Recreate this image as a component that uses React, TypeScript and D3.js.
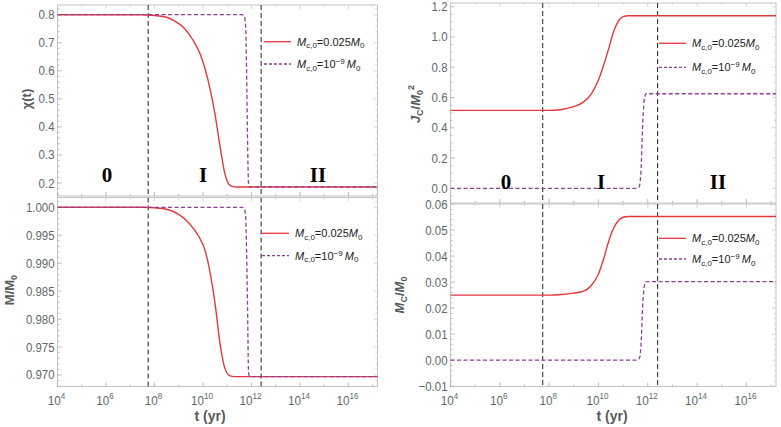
import React from 'react';
import * as d3 from 'd3';

// log10(t / yr) sample points
const chiRedT = [4, 7.5, 8.0, 8.5, 8.8, 9.2, 9.6, 9.9, 10.1, 10.3, 10.5, 10.7, 10.9, 11.05, 11.2, 11.4, 17.2];
const chiRed = [0.8, 0.8, 0.797, 0.791, 0.779, 0.754, 0.708, 0.656, 0.603, 0.533, 0.444, 0.333, 0.235, 0.198, 0.188, 0.186, 0.186];
const chiPurpleT = [4, 11.6, 11.7, 11.76, 11.8, 11.84, 11.88, 11.92, 17.2];
const chiPurple = [0.8, 0.8, 0.796, 0.76, 0.6, 0.35, 0.2, 0.186, 0.186];

const massRedT = [4, 7.5, 8.0, 8.5, 9.0, 9.4, 9.8, 10.1, 10.3, 10.5, 10.7, 10.9, 11.05, 11.2, 11.4, 17.2];
const massRed = [1.0, 1.0, 0.99991, 0.99964, 0.99873, 0.99727, 0.995, 0.99212, 0.98818, 0.98273, 0.97576, 0.97122, 0.97006, 0.96976, 0.9697, 0.9697];
const massPurpleT = [4, 11.6, 11.7, 11.76, 11.8, 11.84, 11.88, 11.92, 17.2];
const massPurple = [1.0, 1.0, 0.9998, 0.9985, 0.992, 0.982, 0.9705, 0.9697, 0.9697];

const jRedT = [4, 8.0, 8.5, 9.0, 9.4, 9.7, 10.0, 10.2, 10.4, 10.6, 10.8, 11.0, 11.2, 17.2];
const jRed = [0.515, 0.515, 0.521, 0.54, 0.571, 0.621, 0.715, 0.809, 0.915, 1.028, 1.103, 1.134, 1.14, 1.14];
const jPurpleT = [4, 11.55, 11.65, 11.72, 11.8, 11.87, 11.93, 17.2];
const jPurple = [0, 0, 0.01, 0.1, 0.45, 0.6, 0.625, 0.625];

const mcRedT = [4, 8.0, 8.5, 9.0, 9.4, 9.7, 10.0, 10.2, 10.4, 10.6, 10.8, 11.0, 11.2, 17.2];
const mcRed = [0.025, 0.025, 0.02524, 0.02576, 0.02651, 0.02862, 0.03315, 0.03859, 0.04523, 0.05037, 0.05354, 0.0549, 0.0552, 0.0552];
const mcPurpleT = [4, 11.55, 11.65, 11.72, 11.8, 11.87, 11.93, 17.2];
const mcPurple = [0, 0, 0.0005, 0.005, 0.022, 0.029, 0.0302, 0.0302];

// phase boundaries, log10(t)
const phaseBounds = [7.74, 12.4];
const phaseLabels = ['0', 'I', 'II'];
const xTickExp = [4, 6, 8, 10, 12, 14, 16];

const chiTicks = [0.2, 0.3, 0.4, 0.5, 0.6, 0.7, 0.8];
const massTicks = [0.97, 0.975, 0.98, 0.985, 0.99, 0.995, 1.0];
const jTicks = [0, 0.2, 0.4, 0.6, 0.8, 1.0, 1.2];
const mcTicks = [-0.01, 0, 0.01, 0.02, 0.03, 0.04, 0.05, 0.06];

const RED = '#e6373c';
const PURPLE = '#8e3d98';
const TICK_COL = '#5d6a6a';
const TITLE_COL = '#555b5b';
const FRAME = '#c4c4c4';
const FONT = "'Liberation Sans', Arial, sans-serif";

const W = 781;
const H = 427;

interface PanelProps {
  x0: number;
  x1: number;
  y0: number;
  y1: number;
  yDomain: [number, number];
  yTicks: number[];
  yFmt: (v: number) => string;
  yMinor: number;
  red: [number[], number[]];
  purple: [number[], number[]];
  legendY: [number, number];
  legendX: number;
  phaseLabelPos?: number[];
  showX: boolean;
}

function Legend({ x, y, label }: { x: number; y: number; label: 'a' | 'b' }) {
  return (
    <g>
      <line x1={x} x2={x + 27} y1={y} y2={y}
        stroke={label === 'a' ? RED : PURPLE} strokeWidth={1.3}
        strokeDasharray={label === 'a' ? undefined : '3,2'} />
      <text x={x + 33} y={y + 4} fontSize={11} fill="#222" fontFamily={FONT}>
        <tspan fontStyle="italic">M</tspan>
        <tspan fontSize={8} dy={2.5}>c,0</tspan>
        <tspan dy={-2.5}>{label === 'a' ? '=0.025' : '=10'}</tspan>
        {label === 'b' && <tspan fontSize={8} dy={-4}>−9</tspan>}
        <tspan fontStyle="italic" dy={label === 'b' ? 4 : 0}>{label === 'b' ? '\u2009M' : 'M'}</tspan>
        <tspan fontSize={8} dy={2.5}>0</tspan>
      </text>
    </g>
  );
}

function Panel(p: PanelProps) {
  const x = d3.scaleLog().domain([1e4, Math.pow(10, 17.2)]).range([p.x0, p.x1]);
  const y = d3.scaleLinear().domain(p.yDomain).range([p.y1, p.y0]);
  const line = d3
    .line<[number, number]>()
    .x(d => x(Math.pow(10, d[0])))
    .y(d => y(d[1]))
    .curve(d3.curveMonotoneX);
  const pts = (s: [number[], number[]]) => s[0].map((t, i) => [t, s[1][i]] as [number, number]);

  // y minor ticks between the labelled ones
  const sub = (p.yTicks[1] - p.yTicks[0]) / p.yMinor;
  const kLo = Math.ceil((p.yDomain[0] - p.yTicks[0]) / sub - 1e-6);
  const kHi = Math.floor((p.yDomain[1] - p.yTicks[0]) / sub + 1e-6);
  const yMinor = d3.range(kLo, kHi + 1).map(k => p.yTicks[0] + k * sub);
  const xMinor = d3.range(4, 18).map(e => Math.pow(10, e)).filter(t => t <= x.domain()[1]);
  const clipId = `clip${Math.round(p.x0)}_${Math.round(p.y0)}`;

  return (
    <g>
      <defs>
        <clipPath id={clipId}>
          <rect x={p.x0} y={p.y0} width={p.x1 - p.x0} height={p.y1 - p.y0} />
        </clipPath>
      </defs>
      <rect x={p.x0} y={p.y0} width={p.x1 - p.x0} height={p.y1 - p.y0}
        fill="white" stroke={FRAME} strokeWidth={1} />
      {yMinor.map((v, i) => {
        const major = p.yTicks.some(t => Math.abs(t - v) < sub * 0.01);
        return (
          <g key={i}>
            <line x1={p.x0} x2={p.x0 + (major ? 4 : 2)} y1={y(v)} y2={y(v)} stroke="#aaa" strokeWidth={0.8} />
            <line x1={p.x1} x2={p.x1 - (major ? 4 : 2)} y1={y(v)} y2={y(v)} stroke="#ccc" strokeWidth={0.8} />
          </g>
        );
      })}
      {p.yTicks.map(v => (
        <text key={v} transform={`translate(${p.x0 - 3},${y(v) + 4.5}) scale(0.88,1)`}
          textAnchor="end" fontSize={13} fill={TICK_COL} fontFamily={FONT}>
          {p.yFmt(v)}
        </text>
      ))}
      {xMinor.map(t => {
        const major = xTickExp.includes(Math.round(Math.log10(t)));
        return (
          <g key={t}>
            <line x1={x(t)} x2={x(t)} y1={p.y1} y2={p.y1 - (major ? 4 : 2)} stroke="#aaa" strokeWidth={0.8} />
            <line x1={x(t)} x2={x(t)} y1={p.y0} y2={p.y0 + (major ? 4 : 2)} stroke="#ccc" strokeWidth={0.8} />
          </g>
        );
      })}
      {p.showX &&
        xTickExp.map(e => (
          <text key={e} transform={`translate(${x(Math.pow(10, e)) - 1},${p.y1 + 18}) scale(0.9,1)`}
            textAnchor="middle" fontSize={13} fill={TICK_COL} fontFamily={FONT}>
            10<tspan fontSize={9} dy={-6}>{e}</tspan>
          </text>
        ))}
      <g clipPath={`url(#${clipId})`}>
        {phaseBounds.map(b => (
          <line key={b} x1={x(Math.pow(10, b))} x2={x(Math.pow(10, b))} y1={p.y0} y2={p.y1}
            stroke="#222" strokeWidth={1} strokeDasharray="5,3" />
        ))}
        <path d={line(pts(p.red)) || ''} fill="none" stroke={RED} strokeWidth={1.4} />
        <path d={line(pts(p.purple)) || ''} fill="none" stroke={PURPLE} strokeWidth={1.3} strokeDasharray="4,2.5" />
      </g>
      {p.phaseLabelPos &&
        phaseLabels.map((l, i) => (
          <text key={l} x={p.phaseLabelPos![i]} y={y(p.yDomain[0]) - 14} textAnchor="middle"
            fontSize={21} fontWeight="bold" fontFamily="'Liberation Serif', 'Times New Roman', serif" fill="#000">
            {l}
          </text>
        ))}
      <Legend x={p.legendX} y={p.legendY[0]} label="a" />
      <Legend x={p.legendX} y={p.legendY[1]} label="b" />
    </g>
  );
}

export default function App() {
  const fmt1 = (v: number) => v.toFixed(1);
  const fmt3 = (v: number) => v.toFixed(3);
  const fmt2 = (v: number) => (v < 0 ? '−' + Math.abs(v).toFixed(2) : v.toFixed(2));
  const titleProps = { fontSize: 13, fontWeight: 'bold' as const, fill: TITLE_COL, fontFamily: FONT, textAnchor: 'middle' as const };
  return (
    <svg width={W} height={H} viewBox={`0 0 ${W} ${H}`}
      style={{ position: 'absolute', left: 0, top: 0, background: 'white' }}>
      <Panel x0={57.5} x1={377.5} y0={5} y1={196} yDomain={[0.1537, 0.8346]} yTicks={chiTicks}
        yFmt={fmt1} yMinor={5} red={[chiRedT, chiRed]} purple={[chiPurpleT, chiPurple]}
        legendX={264} legendY={[41.7, 64]} phaseLabelPos={[107, 203, 318]} showX={false} />
      <Panel x0={57.5} x1={377.5} y0={197.5} y1={386.5} yDomain={[0.96794, 1.00175]} yTicks={massTicks}
        yFmt={fmt3} yMinor={5} red={[massRedT, massRed]} purple={[massPurpleT, massPurple]}
        legendX={262} legendY={[233.3, 255.7]} showX={true} />
      <Panel x0={450.5} x1={776} y0={3} y1={203} yDomain={[-0.097, 1.2245]} yTicks={jTicks}
        yFmt={fmt1} yMinor={4} red={[jRedT, jRed]} purple={[jPurpleT, jPurple]}
        legendX={659} legendY={[43.3, 67.3]} phaseLabelPos={[506, 601, 718]} showX={false} />
      <Panel x0={450.5} x1={776} y0={204} y1={386.5} yDomain={[-0.0101, 0.06]} yTicks={mcTicks}
        yFmt={fmt2} yMinor={5} red={[mcRedT, mcRed]} purple={[mcPurpleT, mcPurple]}
        legendX={659} legendY={[238.3, 259]} showX={true} />

      <text transform="translate(27,99) rotate(-90)" {...titleProps} dy={4}>χ(t)</text>
      <text transform="translate(10,290) rotate(-90)" {...titleProps} dy={4}>
        M/M<tspan fontSize={9} dy={3}>0</tspan>
      </text>
      <text transform="translate(416,104) rotate(-90)" {...titleProps} dy={4}>
        <tspan fontStyle="italic">J</tspan><tspan fontSize={9} dy={3}>C</tspan>
        <tspan dy={-3}>/</tspan><tspan fontStyle="italic">M</tspan>
        <tspan fontSize={9} dy={3}>0</tspan><tspan fontSize={9} dy={-9}>2</tspan>
      </text>
      <text transform="translate(400,295) rotate(-90)" {...titleProps} dy={4}>
        <tspan fontStyle="italic">M</tspan><tspan fontSize={9} dy={3}>C</tspan>
        <tspan dy={-3}>/</tspan><tspan fontStyle="italic">M</tspan>
        <tspan fontSize={9} dy={3}>0</tspan>
      </text>
      <text x={210} y={421} {...titleProps} fontSize={14}>t (yr)</text>
      <text x={612} y={421} {...titleProps} fontSize={14}>t (yr)</text>
    </svg>
  );
}
